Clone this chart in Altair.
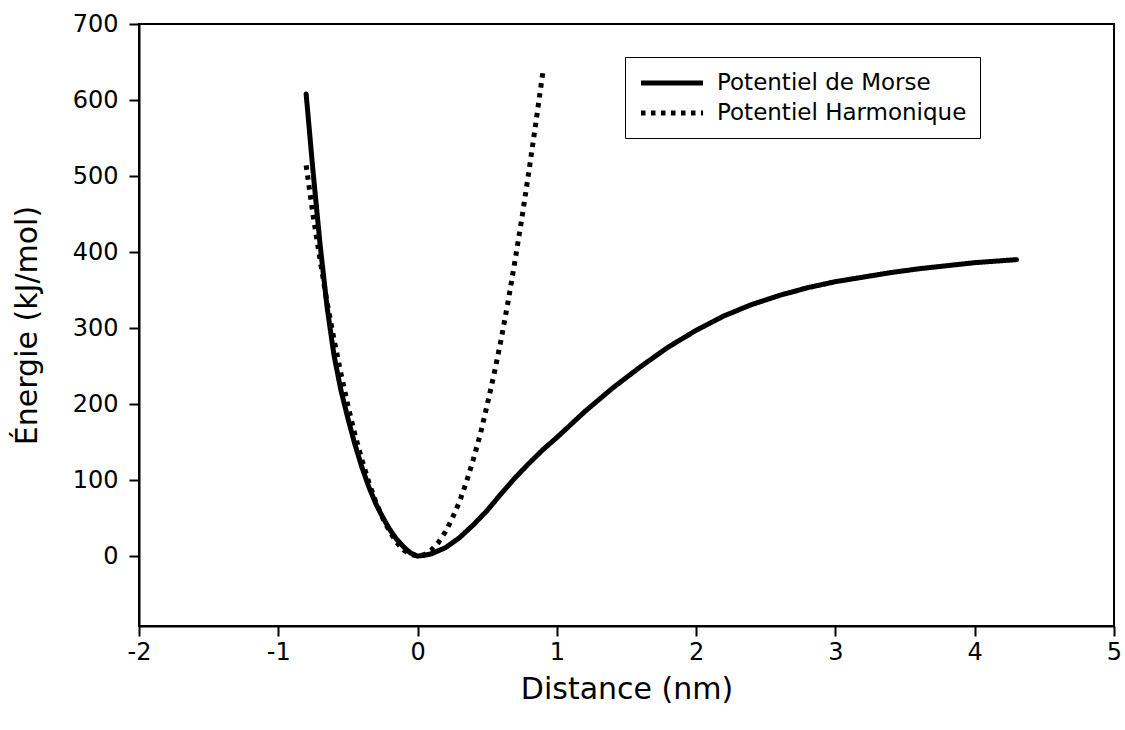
import altair as alt
import pandas as pd

# ---- data ----
series_names = ["Potentiel de Morse", "Potentiel Harmonique"]

morse_x = [-0.8, -0.75, -0.7, -0.65, -0.6, -0.55, -0.5, -0.45, -0.4, -0.35,
           -0.3, -0.25, -0.2, -0.15, -0.1, -0.05, 0.0, 0.05, 0.1, 0.2, 0.3,
           0.4, 0.5, 0.6, 0.7, 0.8, 0.9, 1.0, 1.2, 1.4, 1.6, 1.8, 2.0, 2.2,
           2.4, 2.6, 2.8, 3.0, 3.2, 3.4, 3.6, 3.8, 4.0, 4.15, 4.3]
morse_y = [608, 505, 410, 328, 264, 218, 181, 147, 117, 91,
           69, 51, 35, 22, 12, 4, 0, 1, 3, 11, 24,
           41, 60, 82, 103, 122, 140, 156, 190, 221, 249, 275, 297, 316,
           331, 343, 353, 361, 367, 373, 378, 382, 386, 388, 390]

harm_x = [-0.8, -0.75, -0.7, -0.65, -0.6, -0.55, -0.5, -0.45, -0.4, -0.35,
          -0.3, -0.25, -0.2, -0.15, -0.1, -0.05, 0.0, 0.05, 0.1, 0.15, 0.2,
          0.25, 0.3, 0.35, 0.4, 0.45, 0.5, 0.55, 0.6, 0.65, 0.7, 0.75, 0.8,
          0.85, 0.9]
harm_y = [514, 448, 390, 334, 285, 240, 198, 160, 127, 97,
          71, 50, 32, 18, 8, 2, 0, 2, 8, 18, 32,
          50, 71, 97, 127, 160, 199, 240, 285, 335, 389, 446, 507,
          571, 637]

x_ticks = [-2, -1, 0, 1, 2, 3, 4, 5]
y_ticks = [0, 100, 200, 300, 400, 500, 600, 700]

df_morse = pd.DataFrame({"distance": morse_x, "energie": morse_y,
                         "series": series_names[0]})
df_harm = pd.DataFrame({"distance": harm_x, "energie": harm_y,
                        "series": series_names[1]})

x_enc = alt.X("distance:Q",
              scale=alt.Scale(domain=[-2, 5], nice=False, zero=False),
              axis=alt.Axis(values=x_ticks, title="Distance (nm)",
                            labelExpr="'' + datum.value", labelFlush=False,
                            labelPadding=4, titlePadding=10))
y_enc = alt.Y("energie:Q",
              scale=alt.Scale(domain=[-92, 700], nice=False, zero=False),
              axis=alt.Axis(values=y_ticks, title="Énergie (kJ/mol)",
                            labelFlush=False, labelPadding=11,
                            titlePadding=30))

dash_enc = alt.StrokeDash(
    "series:N",
    scale=alt.Scale(domain=series_names, range=[[1, 0], [4.5, 5.5]]),
    legend=alt.Legend(title=None, orient="none", legendX=486, legendY=33,
                      symbolType="M-3,0H3", symbolSize=427,
                      symbolStrokeWidth=5, symbolStrokeColor="black",
                      symbolOffset=21, labelOffset=32, labelLimit=400,
                      labelFont="DejaVu Sans", labelFontSize=23,
                      labelColor="black", rowPadding=5, padding=13,
                      strokeColor="black", fillColor="white"))

morse = alt.Chart(df_morse).mark_line(
    color="black", strokeWidth=5, strokeCap="round"
).encode(x=x_enc, y=y_enc, strokeDash=dash_enc)

harm = alt.Chart(df_harm).mark_line(
    color="black", strokeWidth=5, strokeCap="butt"
).encode(x=x_enc, y=y_enc, strokeDash=dash_enc)

chart = alt.layer(morse, harm).properties(
    width=975, height=602,
    autosize=alt.AutoSizeParams(type="none"),
    padding={"left": 139, "top": 24, "right": 11, "bottom": 104},
    background="white",
).configure_view(
    stroke="black", strokeWidth=2
).configure_axis(
    domainColor="black", domainWidth=2, tickColor="black", tickWidth=2,
    tickSize=10, labelFont="DejaVu Sans", labelFontSize=24,
    labelColor="black", titleFont="DejaVu Sans", titleFontSize=30,
    titleFontWeight="normal", titleColor="black", grid=False
)

chart.save("out.html", embed_options={"renderer": "svg", "actions": False})
